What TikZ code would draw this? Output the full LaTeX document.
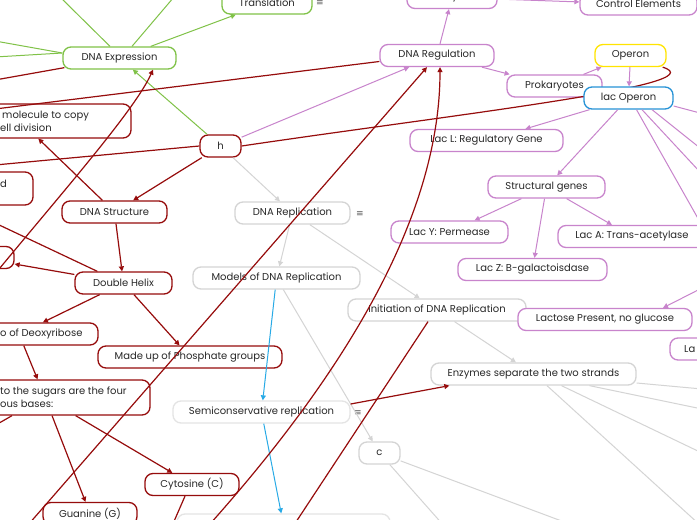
\documentclass[tikz,border=0pt]{standalone}
\usepackage{fontspec}
\setmainfont{Poppins}
\newfontfamily\symfont{DejaVu Sans}
\usetikzlibrary{arrows.meta, calc}
\definecolor{MapVerde}{RGB}{128,194,72}
\definecolor{MapRojo}{RGB}{150,12,12}
\definecolor{MapLila}{RGB}{200,132,204}
\definecolor{MapGris}{RGB}{212,212,212}
\definecolor{MapGrisClaro}{RGB}{228,228,228}
\definecolor{MapAmarillo}{RGB}{255,228,0}
\definecolor{MapAzul}{RGB}{38,146,214}
\definecolor{MapCeleste}{RGB}{40,170,230}
\definecolor{MapTexto}{RGB}{40,40,40}
\tikzset{%
  caja/.style   ={rectangle, rounded corners=8pt, fill=white, line width=1.3pt,
                  minimum height=22pt, inner sep=0pt, text=MapTexto},
  cverde/.style ={caja, draw=MapVerde},
  crojo/.style  ={caja, draw=MapRojo},
  clila/.style  ={caja, draw=MapLila},
  cgris/.style  ={caja, draw=MapGris},
  cclaro/.style ={caja, draw=MapGrisClaro},
  ctexto/.style ={inner sep=0pt, text=MapTexto},
  icono/.style  ={inner sep=0pt, text=black!65, font=\symfont\fontsize{9}{9}\selectfont},
  punta/.style  ={-{Triangle[length=5pt,width=5pt]}},
  lverde/.style ={draw=MapVerde, line width=1pt},
  lrojo/.style  ={draw=MapRojo, line width=1.2pt},
  llila/.style  ={draw=MapLila, line width=1pt},
  lgris/.style  ={draw=MapGris, line width=1pt},
  lazul/.style  ={draw=MapCeleste, line width=1pt}
}
\begin{document}
\begin{tikzpicture}[x=1pt, y=-1pt, every node/.style={font=\fontsize{10}{12}\selectfont}]
  \useasboundingbox (0,0) rectangle (697,520);
  \clip (0,0) rectangle (697,520);
  \fill[white] (0,0) rectangle (697,520);
  % loose ends beyond the frame
  \coordinate (oG1) at (60,-3);   \coordinate (oG2) at (174,-3);
  \coordinate (oG3) at (-5,41);   \coordinate (oG4) at (-5,57);
  \coordinate (oR1) at (-5,80);   \coordinate (oR2) at (-5,165);
  \coordinate (oR3) at (-5,223);  \coordinate (oR4) at (-6,426);
  \coordinate (oR5) at (172,526); \coordinate (oR6) at (-5,109);
  \coordinate (oR7) at (28,525);  \coordinate (oR8) at (-5,274);
  \coordinate (oR9) at (210,524); \coordinate (oR10) at (294,525);
  \coordinate (oL1) at (700,222); \coordinate (oL2) at (700,172);
  \coordinate (oL3) at (700,148); \coordinate (oL4) at (700,113);
  \coordinate (oL5) at (702,288);
  \coordinate (oC1) at (575,526); \coordinate (oC2) at (445,527);
  \coordinate (oE1) at (702,389); \coordinate (oE2) at (702,409);
  \coordinate (oE3) at (702,453); \coordinate (oE4) at (700,525);
  % DNA Expression branch
  \node[cverde, minimum width=90pt] (translation) at (267,3) {Translation};
  \node[icono] (icTrans) at (320,3) {≡};
  \node[cverde, minimum width=113pt] (dnaexp) at (119.5,58) {DNA Expression};
  % DNA Structure branch
  \node[crojo, minimum width=222pt, minimum height=34pt] (molecule) at (20,121) {};
  \node[ctexto, anchor=west] (moleculeA) at (2,116) {molecule to copy};
  \node[ctexto, anchor=west] (moleculeB) at (0,128) {ell division};
  \node[crojo, minimum width=93pt, minimum height=33pt] (andbox) at (-13.5,188.5) {};
  \node[ctexto, anchor=west] (andtxt) at (0,184) {d};
  \node[crojo, minimum width=74pt] (parbox) at (-23,257.5) {};
  \node[crojo, minimum width=105pt] (dnastruct) at (114.5,212) {DNA Structure};
  \node[crojo, minimum width=97pt] (helix) at (123.5,283) {Double Helix};
  \node[crojo, minimum width=158pt] (deoxy) at (19,334) {};
  \node[ctexto, anchor=west] (deoxytxt) at (0,334) {o of Deoxyribose};
  \node[crojo, minimum width=184pt] (phosphate) at (190,357) {Made up of Phosphate groups};
  \node[crojo, minimum width=210pt, minimum height=35pt] (sugars) at (45,397.5) {};
  \node[ctexto, anchor=west] (sugarsA) at (0,392) {to the sugars are the four};
  \node[ctexto, anchor=west] (sugarsB) at (0,404) {ous bases:};
  \node[crojo, minimum width=94pt] (cytosine) at (192,484.5) {Cytosine (C)};
  \node[crojo, minimum width=94pt] (guanine) at (90,513.5) {Guanine (G)};
  \node[crojo, minimum width=41pt] (h) at (220.5,146) {h};
  % DNA Replication branch
  \node[cgris, minimum width=115pt] (dnarep) at (292.5,213) {DNA Replication};
  \node[icono] (icRep) at (360,214) {≡};
  \node[cgris, minimum width=167pt] (models) at (276.5,278) {Models of DNA Replication};
  \node[cclaro, minimum width=177pt] (semicons) at (261.5,412) {Semiconservative replication};
  \node[icono] (icSemi) at (358,413) {≡};
  \node[cclaro, minimum width=213pt] (bottombox) at (283.5,525) {};
  \node[cgris, minimum width=178pt] (initiation) at (437,310) {Initiation of DNA Replication};
  \node[cgris, minimum width=205pt] (enzymes) at (533.5,374) {Enzymes separate the two strands};
  \node[cgris, minimum width=41pt] (cnode) at (379.5,453) {c};
  % DNA Regulation branch
  \node[clila, minimum width=114pt] (dnareg) at (437,55.5) {DNA Regulation};
  \node[clila, minimum width=90pt] (eukaryotes) at (452,-2.5) {Eukaryotes};
  \node[clila, minimum width=117pt] (control) at (638.5,4) {Control Elements};
  \node[clila, minimum width=95pt] (prokaryotes) at (554.5,86) {Prokaryotes};
  \node[caja, draw=MapAmarillo, minimum width=71pt] (operon) at (630.5,55.5) {Operon};
  \draw[lrojo] (h.east) .. controls (450,115) and (720,85) .. ($(operon.south east)+(-4,0)$);
  \node[caja, draw=MapAzul, minimum width=89pt] (lacoperon) at (628.5,98) {lac Operon};
  \node[clila, minimum width=153pt] (lacl) at (486.5,140.5) {Lac L: Regulatory Gene};
  \node[clila, minimum width=117pt] (structural) at (546.5,187) {Structural genes};
  \node[clila, minimum width=117pt] (lacy) at (449.5,232) {Lac Y: Permease};
  \node[clila, minimum width=149pt] (lacz) at (532.5,269.5) {Lac Z: B-galactoisdase};
  \node[clila, minimum width=148pt] (laca) at (632,236.5) {Lac A: Trans-acetylase};
  \node[clila, minimum width=174pt] (lactose) at (605,319.5) {Lactose Present, no glucose};
  \node[clila, minimum width=90pt] (labox) at (715,349) {};
  \node[ctexto, anchor=west] (latxt) at (684,349) {La};
  % green connectors
  \draw[lverde, punta] (dnaexp) -- (translation);
  \draw[lverde, punta] (h) -- (dnaexp);
  \draw[lverde] ($(dnaexp.north)+(-9.5,0)$) -- (oG1);
  \draw[lverde] ($(dnaexp.north)+(12.5,0)$) -- (oG2);
  \draw[lverde] ($(dnaexp.west)+(0,-5)$) -- (oG3);
  \draw[lverde] ($(dnaexp.west)+(0,-5)$) -- (oG4);
  % red connectors
  \draw[lrojo, punta] (h) -- (dnastruct);
  \draw[lrojo, punta] (dnastruct) -- (molecule);
  \draw[lrojo, punta] (dnastruct) -- (helix);
  \draw[lrojo, punta] (helix) -- (parbox);
  \draw[lrojo, punta] (helix) -- (deoxy);
  \draw[lrojo, punta] (helix) -- (phosphate);
  \draw[lrojo, punta] (deoxy) -- (sugars);
  \draw[lrojo, punta] (sugars) -- (guanine);
  \draw[lrojo, punta] (sugars) -- (cytosine);
  \draw[lrojo] ($(sugars.south)+(-33,0)$) -- (oR4);
  \draw[lrojo] ($(cytosine.south)+(-7,0)$) -- (oR5);
  \draw[lrojo] (h.west) -- (oR2);
  \draw[lrojo] ($(dnaexp.south west)+(2,-2)$) -- (oR1);
  \draw[lrojo] ($(helix.north west)+(23,0)$) -- (oR3);
  % purple connectors
  \draw[llila, punta] (h) -- (dnareg);
  \draw[llila, punta] (dnareg) -- (eukaryotes);
  \draw[llila, punta] (eukaryotes) -- (control);
  \draw[llila, punta] (dnareg) -- (prokaryotes);
  \draw[llila, punta] (prokaryotes) -- (operon);
  \draw[llila, punta] (operon) -- (lacoperon);
  \draw[llila, punta] (lacoperon) -- (lacl);
  \draw[llila, punta] (lacoperon) -- (structural);
  \draw[llila] ($(lacoperon.south)+(8,0)$) -- (oL1);
  \draw[llila] ($(lacoperon.south)+(13.5,0)$) -- (oL2);
  \draw[llila] ($(lacoperon.south)+(23.5,0)$) -- (oL3);
  \draw[llila] ($(lacoperon.east)+(0,8)$) -- (oL4);
  \draw[llila, punta] (structural) -- (lacy);
  \draw[llila, punta] (structural) -- (lacz);
  \draw[llila, punta] (structural) -- (laca);
  \draw[llila, punta] (oL5) -- ($(lactose.north)+(58,0)$);
  % grey connectors
  \draw[lgris, punta] (h) -- (dnarep);
  \draw[lgris, punta] (dnarep) -- (models);
  \draw[lgris, punta] (dnarep) -- (initiation);
  \draw[lgris, punta] (models) -- (cnode);
  \draw[lgris, punta] (initiation) -- (enzymes);
  \draw[lgris] (cnode) -- (oC1);
  \draw[lgris] (cnode) -- (oC2);
  \draw[lgris] ($(enzymes.east)+(0,9)$) -- (oE1);
  \draw[lgris] ($(enzymes.south)+(56,0)$) -- (oE2);
  \draw[lgris] ($(enzymes.south)+(28,0)$) -- (oE3);
  \draw[lgris] ($(enzymes.south)+(13.5,0)$) -- (oE4);
  % blue connectors
  \draw[lazul, punta] (models) -- (semicons);
  \draw[lazul, punta] (semicons) -- (bottombox);
  % long red links over the nodes
  \draw[lrojo] (oR6) -- ($(dnareg.west)+(0,6)$);
  \draw[lrojo, punta] (oR7) -- ($(dnareg.south)+(-10,0)$);
  \draw[lrojo, punta] (oR8) .. controls (60,195) and (135,110) .. ($(dnaexp.south)+(33.5,0)$);
  \draw[lrojo, punta] (oR9) .. controls (340,378) and (440,220) .. ($(dnareg.south)+(3,0)$);
  \draw[lrojo] (oR10) -- ($(initiation.south)+(-9,0)$);
  \draw[lrojo, punta] ($(semicons.east)+(0,-8)$) -- ($(enzymes.south west)+(19,0)$);
\end{tikzpicture}
\end{document}
